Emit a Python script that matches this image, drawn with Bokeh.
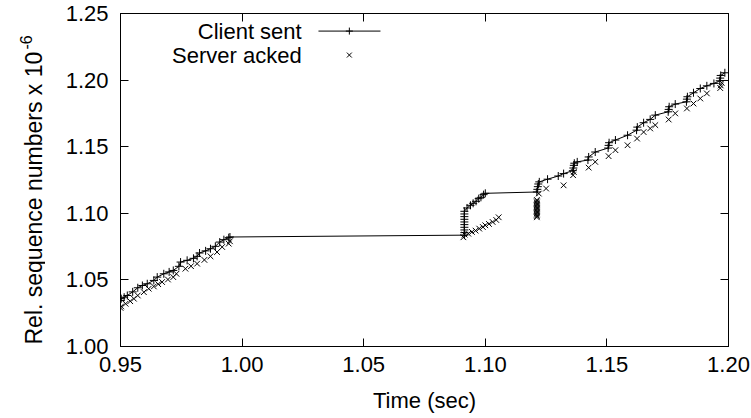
import math
from bokeh.plotting import figure
from bokeh.layouts import row
from bokeh.core.properties import value
from bokeh.models import LinearAxis, Range1d, FixedTicker, Label, NumeralTickFormatter, CustomJSTickFormatter
from bokeh.embed import file_html
from bokeh.resources import INLINE

# ---- data ----
client_t = [0.9500, 0.9503, 0.9515, 0.9528, 0.9550, 0.9571, 0.9590, 0.9610, 0.9637, 0.9651,
            0.9678, 0.9700, 0.9717, 0.9740, 0.9747, 0.9774, 0.9800, 0.9815, 0.9825, 0.9850,
            0.9870, 0.9890, 0.9908, 0.9925, 0.9945, 0.9950,
            1.0914, 1.0914, 1.0914, 1.0914, 1.0914, 1.0914, 1.0914, 1.0914, 1.0914, 1.0914,
            1.0925, 1.0939, 1.0950, 1.0962, 1.0973, 1.0982, 1.0993, 1.1000,
            1.1212, 1.1214, 1.1216, 1.1218, 1.1222, 1.1256, 1.1300, 1.1322, 1.1360, 1.1362,
            1.1364, 1.1366, 1.1378, 1.1422, 1.1425, 1.1452, 1.1505, 1.1507, 1.1509, 1.1535,
            1.1585, 1.1622, 1.1625, 1.1651, 1.1678, 1.1699, 1.1752, 1.1754, 1.1756, 1.1781,
            1.1827, 1.1829, 1.1831, 1.1856, 1.1884, 1.1911, 1.1940, 1.1964, 1.1966, 1.1968,
            1.1985]
client_v = [1.0345, 1.0359, 1.0370, 1.0383, 1.0410, 1.0441, 1.0458, 1.0471, 1.0496, 1.0521,
            1.0546, 1.0560, 1.0571, 1.0602, 1.0634, 1.0647, 1.0662, 1.0677, 1.0702, 1.0718,
            1.0734, 1.0752, 1.0784, 1.0802, 1.0817, 1.0822,
            1.0836, 1.0855, 1.0875, 1.0895, 1.0915, 1.0935, 1.0955, 1.0975, 1.0995, 1.1015,
            1.1040, 1.1060, 1.1075, 1.1090, 1.1110, 1.1120, 1.1140, 1.1150,
            1.1160, 1.1180, 1.1200, 1.1220, 1.1236, 1.1256, 1.1280, 1.1298, 1.1320, 1.1340,
            1.1360, 1.1376, 1.1386, 1.1400, 1.1423, 1.1460, 1.1490, 1.1510, 1.1530, 1.1550,
            1.1586, 1.1624, 1.1647, 1.1680, 1.1705, 1.1737, 1.1762, 1.1780, 1.1800, 1.1820,
            1.1837, 1.1857, 1.1875, 1.1905, 1.1937, 1.1957, 1.1975, 1.1995, 1.2015, 1.2035,
            1.2055]

server_t = [0.9500, 0.9503, 0.9521, 0.9540, 0.9555, 0.9571, 0.9596, 0.9616, 0.9637, 0.9655,
            0.9671, 0.9695, 0.9717, 0.9730, 0.9767, 0.9790, 0.9815, 0.9845, 0.9870, 0.9897,
            0.9918, 0.9945, 0.9950,
            1.0910, 1.0915, 1.0930, 1.0945, 1.0960, 1.0975, 1.0990, 1.1000, 1.1015, 1.1030,
            1.1045, 1.1055,
            1.1212, 1.1212, 1.1212, 1.1212, 1.1212, 1.1212, 1.1212, 1.1212, 1.1212, 1.1212,
            1.1212, 1.1212, 1.1212, 1.1212,
            1.1220, 1.1250, 1.1322, 1.1361, 1.1364, 1.1425, 1.1452, 1.1507, 1.1535, 1.1585,
            1.1624, 1.1651, 1.1678, 1.1699, 1.1754, 1.1781, 1.1829, 1.1856, 1.1884, 1.1911,
            1.1966, 1.1968, 1.1972]
server_v = [1.0290, 1.0301, 1.0321, 1.0340, 1.0359, 1.0383, 1.0408, 1.0434, 1.0451, 1.0468,
            1.0484, 1.0503, 1.0521, 1.0546, 1.0584, 1.0603, 1.0622, 1.0650, 1.0677, 1.0709,
            1.0747, 1.0772, 1.0790,
            1.0820, 1.0840, 1.0847, 1.0860, 1.0870, 1.0885, 1.0897, 1.0910, 1.0920, 1.0935,
            1.0950, 1.0970,
            1.0970, 1.0980, 1.0990, 1.1000, 1.1010, 1.1020, 1.1030, 1.1040, 1.1050, 1.1060,
            1.1070, 1.1080, 1.1090, 1.1100,
            1.1148, 1.1186, 1.1210, 1.1286, 1.1310, 1.1343, 1.1386, 1.1429, 1.1474, 1.1511,
            1.1561, 1.1610, 1.1637, 1.1662, 1.1704, 1.1750, 1.1787, 1.1824, 1.1862, 1.1900,
            1.1940, 1.1960, 1.1980]

x_ticks = [0.95, 1.00, 1.05, 1.10, 1.15, 1.20]
y_ticks = [1.00, 1.05, 1.10, 1.15, 1.20, 1.25]
series_names = ["Client sent", "Server acked"]
x_title = "Time (sec)"
y_title = "Rel. sequence numbers x 10"
y_title_sup = "-6"

FONT = "Liberation Sans"
FS = "22px"
H = 418
TITLE_W = 45
B_TOP, B_BOTTOM = 13, 72
FRAME_H = H - B_TOP - B_BOTTOM

# ---- narrow strip holding the rotated y title (with its exponent) ----
# its frame is aligned with the main chart's frame by the row layout
t = figure(width=TITLE_W, height=H, output_backend="svg", toolbar_location=None,
           x_range=Range1d(0, TITLE_W), y_range=Range1d(0, FRAME_H),
           x_axis_location=None, y_axis_location=None,
           min_border_left=0, min_border_right=0,
           min_border_top=B_TOP, min_border_bottom=B_BOTTOM)
t.outline_line_color = None
t.xgrid.visible = False
t.ygrid.visible = False
t.border_fill_color = "white"
t.background_fill_color = "white"
t.text(x=[33], y=[2], text=[y_title], angle=math.pi / 2,
       text_align="left", text_baseline="alphabetic",
       text_font=value(FONT), text_font_size="23px", text_color="black")
t.text(x=[25], y=[297], text=[y_title_sup], angle=math.pi / 2,
       text_align="left", text_baseline="alphabetic",
       text_font=value(FONT), text_font_size="16px", text_color="black")

# ---- main chart ----
p = figure(width=751 - TITLE_W, height=H, output_backend="svg", toolbar_location=None,
           x_range=Range1d(0.95, 1.20), y_range=Range1d(1.00, 1.25),
           min_border_left=120 - TITLE_W, min_border_right=23, min_border_top=B_TOP,
           min_border_bottom=B_BOTTOM)
p.xgrid.visible = False
p.ygrid.visible = False
p.outline_line_color = "black"
p.outline_line_width = 1
p.background_fill_color = "white"
p.border_fill_color = "white"

for ax, ticks in ((p.xaxis[0], x_ticks), (p.yaxis[0], y_ticks)):
    ax.ticker = FixedTicker(ticks=ticks)
    ax.formatter = NumeralTickFormatter(format="0.00")
    ax.major_tick_in = 8
    ax.major_tick_out = 0
    ax.minor_tick_line_color = None
    ax.axis_line_color = "black"
    ax.major_tick_line_color = "black"
    ax.major_label_text_font = FONT
    ax.major_label_text_font_size = FS
    ax.major_label_text_color = "black"
    ax.axis_label_text_font = FONT
    ax.axis_label_text_font_size = FS
    ax.axis_label_text_font_style = "normal"
    ax.axis_label_text_color = "black"

p.xaxis.axis_label = x_title
p.xaxis.major_label_standoff = 10
p.xaxis.axis_label_standoff = 13
p.yaxis.major_label_standoff = 12

# mirrored ticks (top / right), no labels
blank = CustomJSTickFormatter(code="return ''")
top = LinearAxis(ticker=FixedTicker(ticks=x_ticks), major_tick_in=8, major_tick_out=0,
                 minor_tick_line_color=None, formatter=blank,
                 major_label_standoff=0, axis_line_color="black")
right = LinearAxis(ticker=FixedTicker(ticks=y_ticks), major_tick_in=8, major_tick_out=0,
                   minor_tick_line_color=None, formatter=blank,
                   major_label_standoff=0, axis_line_color="black")
p.add_layout(top, "above")
p.add_layout(right, "right")

# data
p.line(client_t, client_v, line_color="black", line_width=1)
p.scatter(client_t, client_v, marker="cross", size=8, line_color="black", line_width=1)
p.scatter(server_t, server_v, marker="x", size=8, line_color="black", line_width=1)

# key (gnuplot style: text on the left, sample on the right)
key_text_x = 1.0245
key_line = (1.0314, 1.0569)
key_mid = 1.0441
key_y = (1.2368, 1.2188)
p.add_layout(Label(x=key_text_x, y=key_y[0], text=series_names[0], text_align="right",
                   text_baseline="middle", text_font=FONT, text_font_size=FS,
                   text_color="black"))
p.add_layout(Label(x=key_text_x, y=key_y[1], text=series_names[1], text_align="right",
                   text_baseline="middle", text_font=FONT, text_font_size=FS,
                   text_color="black"))
p.line(list(key_line), [key_y[0], key_y[0]], line_color="black", line_width=1)
p.scatter([key_mid], [key_y[0]], marker="cross", size=7, line_color="black")
p.scatter([key_mid], [key_y[1]], marker="x", size=7, line_color="black")

layout = row(t, p, spacing=0)
open("out.html", "w").write(file_html(layout, INLINE))
